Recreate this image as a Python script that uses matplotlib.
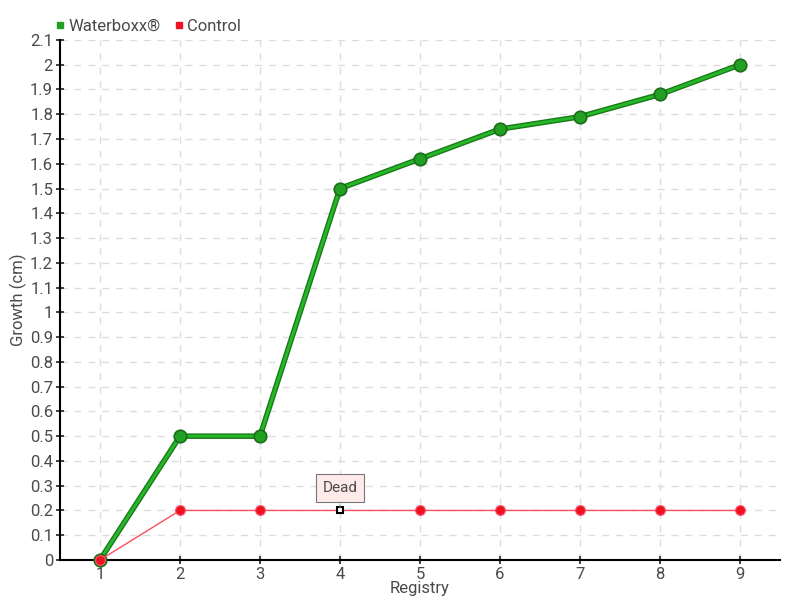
import matplotlib
matplotlib.use("Agg")
import matplotlib.pyplot as plt
from matplotlib.lines import Line2D

plt.rcParams['font.family'] = ['Roboto', 'DejaVu Sans']

registry = [1, 2, 3, 4, 5, 6, 7, 8, 9]
waterboxx = [0, 0.5, 0.5, 1.5, 1.62, 1.74, 1.79, 1.88, 2.0]
control = [0, 0.2, 0.2, 0.2, 0.2, 0.2, 0.2, 0.2, 0.2]
dead_index = 3
y_ticks = [round(0.1 * i, 1) for i in range(22)]
y_labels = ["0" if v == 0 else ("%g" % v) for v in y_ticks]

text_color = "#4a4a4a"

fig = plt.figure(figsize=(8, 6), dpi=100)
ax = fig.add_axes([0.075, 0.0667, 0.9, 0.8667])

# waterboxx: dark outline under a bright line
ax.plot(registry, waterboxx, color="#1a7a1a", lw=4, zorder=3, clip_on=False)
ax.plot(registry, waterboxx, color="#26b826", lw=2, zorder=4, clip_on=False,
        marker="o", markersize=9, markerfacecolor="#22a022",
        markeredgecolor="#1a6e1a", markeredgewidth=1.2)

ax.plot(registry, control, color="#ff4d5e", lw=1, zorder=5, clip_on=False)
ctrl_x = [x for i, x in enumerate(registry) if i != dead_index]
ctrl_y = [y for i, y in enumerate(control) if i != dead_index]
ax.plot(ctrl_x, ctrl_y, ls="none", marker="o", markersize=7,
        markerfacecolor="#ee1122", markeredgecolor="#ff5060",
        markeredgewidth=0.8, zorder=6, clip_on=False)
ax.plot(registry[dead_index], control[dead_index], ls="none", marker="s",
        markersize=5, markerfacecolor="white", markeredgecolor="black",
        markeredgewidth=1.5, zorder=7)

ax.annotate("Dead", xy=(registry[dead_index], control[dead_index]),
            xytext=(0, 16), textcoords="offset points", ha="center",
            va="center", fontsize=11, color=text_color, zorder=8,
            bbox=dict(boxstyle="square,pad=0.45", fc="#ffeaea", ec="#777777", lw=0.8),
            arrowprops=dict(arrowstyle="-", color="#777777", lw=0.8))

ax.set_xlim(0.5, 9.5)
ax.set_ylim(0, 2.1)
ax.set_xticks(registry)
ax.set_yticks(y_ticks)
ax.set_yticklabels(y_labels)
ax.tick_params(axis="both", direction="inout", length=6, width=1.2,
               labelsize=12, labelcolor=text_color, color="#222222", pad=2)

ax.grid(True, ls=(0, (5, 5)), color="#dddddd", lw=1)
ax.set_axisbelow(True)
for side in ["top", "right"]:
    ax.spines[side].set_visible(False)
ax.spines["left"].set_linewidth(1.5)
ax.spines["bottom"].set_linewidth(1.5)

ax.set_xlabel("Registry", fontsize=12, color=text_color, labelpad=-1)
ax.set_ylabel("Growth (cm)", fontsize=12, color=text_color, labelpad=2)

handles = [
    Line2D([], [], ls="none", marker="s", markersize=5, color="#22a022"),
    Line2D([], [], ls="none", marker="s", markersize=5, color="#ee1122"),
]
fig.legend(handles, ["Waterboxx®", "Control"], loc="upper left",
           bbox_to_anchor=(0.05, 0.993), ncol=2, frameon=False,
           fontsize=12, labelcolor=text_color, handlelength=0.6,
           handletextpad=0.2, columnspacing=0.8)

fig.savefig("out.png", dpi=100)
